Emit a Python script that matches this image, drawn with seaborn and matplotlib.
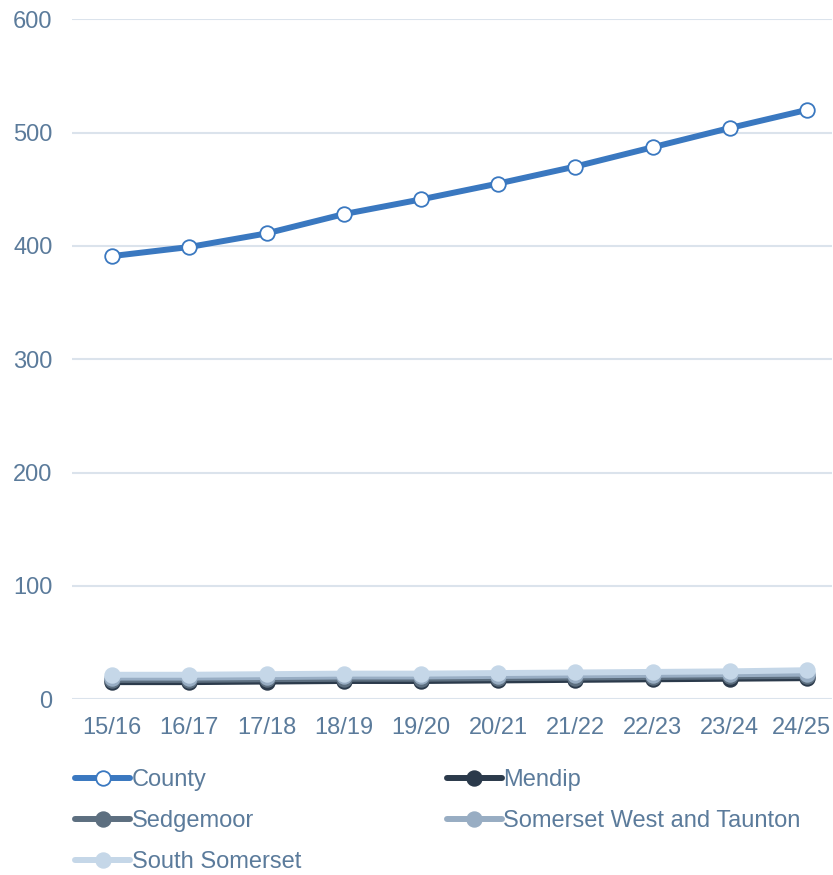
import pandas as pd
import matplotlib
matplotlib.use("Agg")
import matplotlib.pyplot as plt
import matplotlib.transforms as mtrans
import seaborn as sns

# data
years = ["15/16", "16/17", "17/18", "18/19", "19/20", "20/21", "21/22", "22/23", "23/24", "24/25"]
county = [391, 399, 411, 428, 441, 455, 470, 487, 504, 520]
mendip = [15, 15, 15.5, 16, 16, 16.5, 17, 17.5, 18, 18.5]
sedgemoor = [17, 17, 17.5, 18, 18, 18.5, 19, 19.5, 20, 20.5]
swt = [19, 19, 19.5, 20, 20, 20.5, 21, 21.5, 22, 22.5]
south_somerset = [21.5, 21.5, 22, 22.5, 22.5, 23, 23.5, 24, 24.5, 25.5]

series = ["County", "Mendip", "Sedgemoor", "Somerset West and Taunton", "South Somerset"]
colours = ["#3a78c0", "#2b3a4b", "#5d6f80", "#98adc3", "#c5d7e8"]

df = pd.DataFrame({"Year": years, "County": county, "Mendip": mendip,
                   "Sedgemoor": sedgemoor, "Somerset West and Taunton": swt,
                   "South Somerset": south_somerset})
long = df.melt(id_vars="Year", var_name="Area", value_name="Value")
long["x"] = long["Year"].map({y: i for i, y in enumerate(years)})

sns.set_style("white")
plt.rcParams["font.family"] = ["Liberation Sans", "DejaVu Sans"]
text_col = "#5b7b9b"
fs = 17

fig = plt.figure(figsize=(8.33, 8.75), dpi=100)
ax = fig.add_axes([0.0864, 0.201, 0.912, 0.777])

for name, col in zip(series, colours):
    sub = long[long["Area"] == name]
    face = "white" if name == "County" else col
    sns.lineplot(data=sub, x="x", y="Value", ax=ax, color=col, linewidth=4.3,
                 marker="o", markersize=10.5, markerfacecolor=face,
                 markeredgecolor=col, markeredgewidth=1.3, label=name)

ax.set_xlim(-0.52, 9.32)
ax.set_ylim(0, 600)
ax.set_yticks(range(0, 601, 100))
ax.set_xticks(range(len(years)))
ax.set_xticklabels(years)
ax.set_xlabel("")
ax.set_ylabel("")
ax.grid(axis="y", color="#dbe3ec", linewidth=1.5)
ax.set_axisbelow(True)
for s in ax.spines.values():
    s.set_visible(False)
ax.tick_params(axis="y", length=0, pad=14, labelsize=fs, labelcolor=text_col)
ax.tick_params(axis="x", length=0, pad=13, labelsize=fs, labelcolor=text_col)
# nudge the last year label in so it stays inside the figure
last = ax.get_xticklabels()[-1]
last.set_transform(last.get_transform() + mtrans.ScaledTranslation(-0.06, 0, fig.dpi_scale_trans))

handles, labels = ax.get_legend_handles_labels()
ax.get_legend().remove()
# reorder so the two-column legend reads across rows
order = [0, 2, 4, 1, 3]
leg = fig.legend([handles[i] for i in order], [labels[i] for i in order],
                 loc="upper left", bbox_to_anchor=(0.09, 0.121),
                 ncol=2, frameon=False, fontsize=fs, handlelength=2.35,
                 handletextpad=0.05, columnspacing=6.17, labelspacing=0.8,
                 borderaxespad=0, borderpad=0)
for t in leg.get_texts():
    t.set_color(text_col)

fig.savefig("out.png", dpi=100)
